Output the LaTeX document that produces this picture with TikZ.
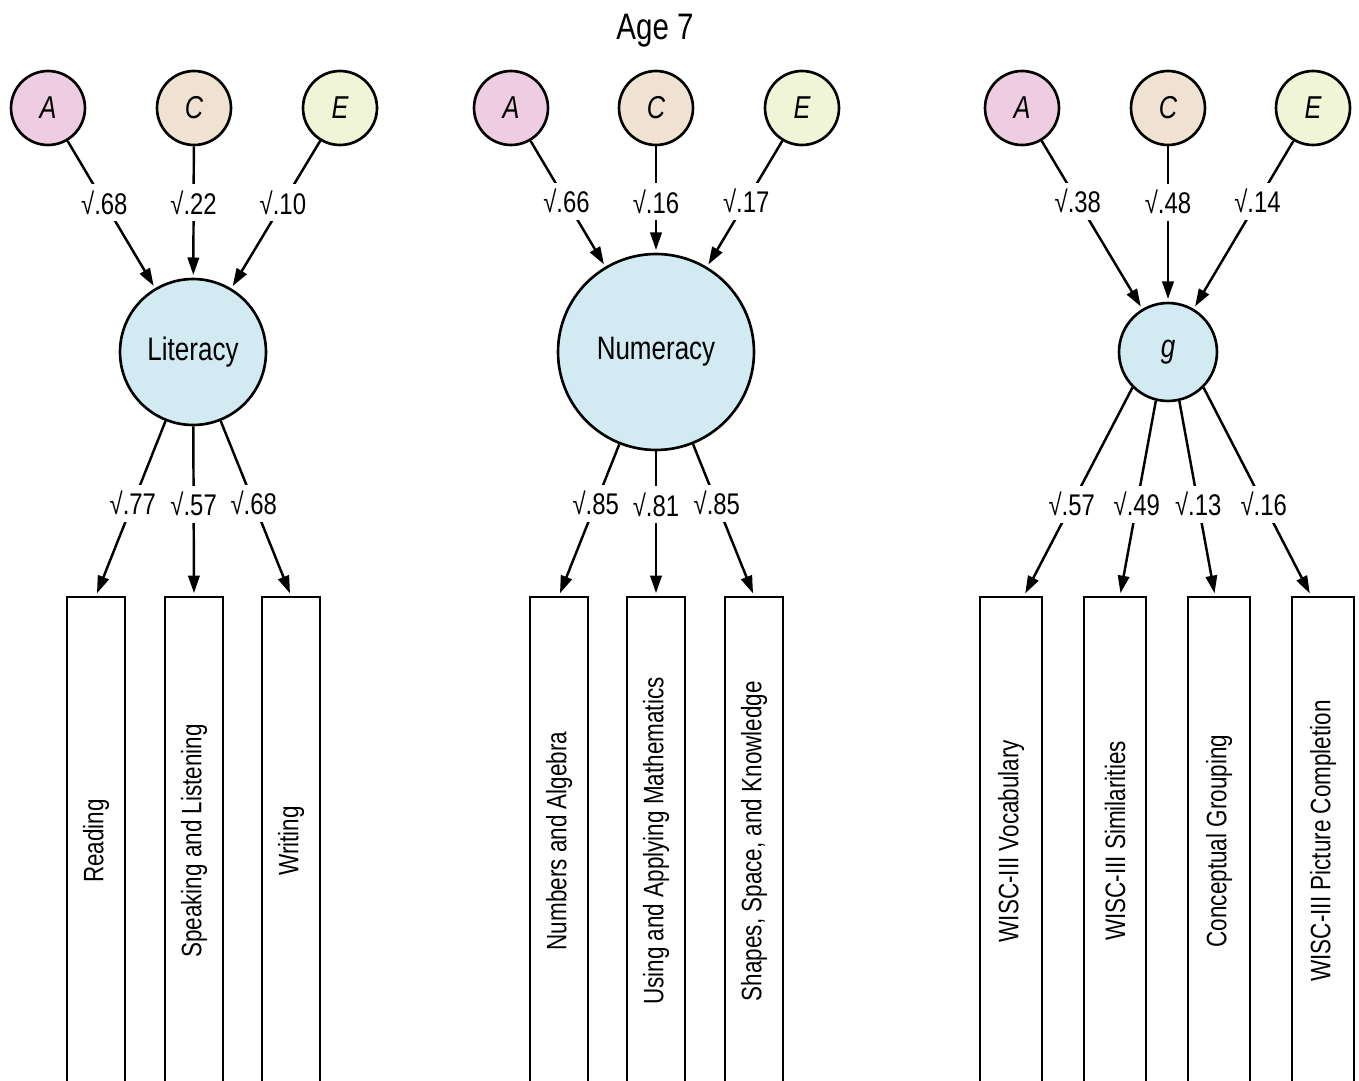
\documentclass[tikz,border=0pt]{standalone}
\usepackage{fontspec}
\setmainfont{Liberation Sans}[FakeStretch=0.8]
\usepackage{graphicx}
\usetikzlibrary{arrows.meta}
\usetikzlibrary{calc}

\definecolor{apink}{RGB}{238,205,226}
\definecolor{cbeige}{RGB}{240,226,208}
\definecolor{egreen}{RGB}{240,245,215}
\definecolor{latblue}{RGB}{210,234,242}

\begin{document}
\begin{tikzpicture}[x=0.02cm,y=-0.02cm,
  ace/.style={circle,draw,line width=1.5pt,minimum size=1.48cm,inner sep=0pt,font=\fontsize{18}{21}\selectfont\itshape},
  latent/.style={circle,draw,line width=1.5pt,fill=latblue,inner sep=0pt,font=\fontsize{18.5}{22}\selectfont},
  manifest/.style={rectangle,draw,line width=1.4pt,minimum height=9.76cm,inner sep=0pt,font=\fontsize{16}{19}\selectfont},
  arr/.style={-{Triangle[length=10pt,width=6.5pt]},line width=1.4pt,shorten >=1.5pt},
  coef/.style={fill=white,inner sep=3pt,text height=14pt,text depth=1pt,font=\fontsize{17}{20}\selectfont}]
\useasboundingbox (0,0) rectangle (1359,1081);
\clip (0,0) rectangle (1359,1081);

\node[font=\fontsize{21}{25}\selectfont] (title) at (655,31) {Age 7};

% literacy
\node[ace,fill=apink] (A1) at (48,108) {A};
\node[ace,fill=cbeige] (C1) at (194,108) {C};
\node[ace,fill=egreen] (E1) at (340,108) {E};
\node[latent,minimum size=2.92cm] (Lit) at (193,352) {Literacy};
\node[manifest,minimum width=1.16cm] (R1) at (96,841) {\rotatebox{90}{Reading}};
\node[manifest,minimum width=1.16cm] (R2) at (194,841) {\rotatebox{90}{Speaking and Listening}};
\node[manifest,minimum width=1.16cm] (R3) at (291,841) {\rotatebox{90}{Writing}};

\draw[arr] (A1) -- node[coef,pos=0.42] {√.68} (Lit);
\draw[arr] (C1) -- node[coef,pos=0.43] {√.22} (Lit);
\draw[arr] (E1) -- node[coef,pos=0.42] {√.10} (Lit);
\draw[arr] (Lit) -- node[coef,pos=0.47] {√.77} (R1.north);
\draw[arr] (Lit) -- node[coef,pos=0.46] {√.57} (R2.north);
\draw[arr] (Lit) -- node[coef,pos=0.47] {√.68} (R3.north);

% numeracy
\node[ace,fill=apink] (A2) at (511,108) {A};
\node[ace,fill=cbeige] (C2) at (656,108) {C};
\node[ace,fill=egreen] (E2) at (802,108) {E};
\node[latent,minimum size=3.92cm] (Num) at (656,352) {Numeracy};
\node[manifest,minimum width=1.16cm] (N1) at (559,841) {\rotatebox{90}{Numbers and Algebra}};
\node[manifest,minimum width=1.16cm] (N2) at (656,841) {\rotatebox{90}{Using and Applying Mathematics}};
\node[manifest,minimum width=1.16cm] (N3) at (754,841) {\rotatebox{90}{Shapes, Space, and Knowledge}};

\draw[arr] (A2) -- node[coef,pos=0.48] {√.66} (Num);
\draw[arr] (C2) -- node[coef,pos=0.52] {√.16} (Num);
\draw[arr] (E2) -- node[coef,pos=0.48] {√.17} (Num);
\draw[arr] (Num) -- node[coef,pos=0.39] {√.85} (N1.north);
\draw[arr] (Num) -- node[coef,pos=0.37] {√.81} (N2.north);
\draw[arr] (Num) -- node[coef,pos=0.39] {√.85} (N3.north);

% g
\node[ace,fill=apink] (A3) at (1022,108) {A};
\node[ace,fill=cbeige] (C3) at (1168,108) {C};
\node[ace,fill=egreen] (E3) at (1313,108) {E};
\node[latent,minimum size=1.96cm] (g) at (1168,352) {\itshape g};
\node[manifest,minimum width=1.24cm] (W1) at (1011,841) {\rotatebox{90}{WISC-III Vocabulary}};
\node[manifest,minimum width=1.24cm] (W2) at (1115,841) {\rotatebox{90}{WISC-III Similarities}};
\node[manifest,minimum width=1.24cm] (W3) at (1219,841) {\rotatebox{90}{Conceptual Grouping}};
\node[manifest,minimum width=1.24cm] (W4) at (1323,841) {\rotatebox{90}{WISC-III Picture Completion}};

\draw[arr] (A3) -- node[coef,pos=0.36] {√.38} (g);
\draw[arr] (C3) -- node[coef,pos=0.36] {√.48} (g);
\draw[arr] (E3) -- node[coef,pos=0.36] {√.14} (g);
\draw[arr] (g.225) -- node[coef,pos=0.56] {√.57} ($(W1.north)+(13,0)$);
\draw[arr] (g.256) -- node[coef,pos=0.53] {√.49} ($(W2.north)+(5,0)$);
\draw[arr] (g.283) -- node[coef,pos=0.53] {√.13} ($(W3.north)+(-4,0)$);
\draw[arr] (g.315) -- node[coef,pos=0.56] {√.16} ($(W4.north)+(-12,0)$);

\end{tikzpicture}
\end{document}
